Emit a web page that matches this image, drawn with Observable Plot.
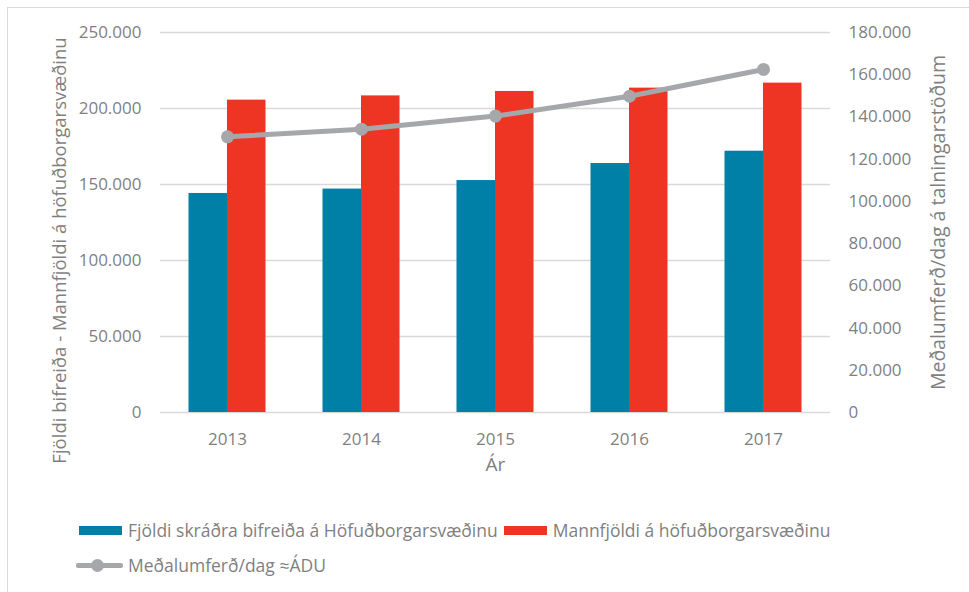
<!DOCTYPE html>
<html>
<head>
<meta charset="utf-8">
<script src="https://cdn.jsdelivr.net/npm/d3@7"></script>
<script src="https://cdn.jsdelivr.net/npm/@observablehq/plot@0.6"></script>
<style>
  body { margin: 0; background: #fff; font-family: "Open Sans", sans-serif; }
  #wrap { position: relative; width: 969px; height: 592px; overflow: hidden; }
  #frame { position: absolute; left: 7px; top: 7px; width: 1000px; height: 1000px; border: 1.5px solid #d9d9d9; box-sizing: border-box; pointer-events: none; }
  #chart svg { display: block; overflow: visible; }
  .legend { position: absolute; left: 0; top: 490px; width: 969px; color: #7f7f7f; font-size: 17.5px; }
  .row { position: absolute; left: 76px; display: flex; align-items: center; white-space: nowrap; }
  .sw { display: inline-block; width: 43px; height: 9px; margin-left: 3px; margin-right: 6px; }
  .ln { display: inline-block; position: relative; width: 47px; height: 5px; background: #a5a7aa; margin-right: 5px; border-radius: 2px; }
  .ln::after { content: ""; position: absolute; left: 15px; top: -4px; width: 13px; height: 13px; border-radius: 50%; background: #a5a7aa; }
</style>
</head>
<body>
<div id="wrap">
  <div id="frame"></div>
  <div id="chart"></div>
  <div class="legend" id="legend"></div>
</div>
<script>
// ---- data ----
const years = ["2013", "2014", "2015", "2016", "2017"];
const vehicles = [144100, 147000, 152600, 163800, 171900];     // Fjöldi skráðra bifreiða (left axis)
const population = [205500, 208300, 211200, 213400, 216700];   // Mannfjöldi (left axis)
const traffic = [130600, 134200, 140400, 149800, 162500];      // Meðalumferð/dag (right axis)
const seriesNames = [
  "Fjöldi skráðra bifreiða á Höfuðborgarsvæðinu",
  "Mannfjöldi á höfuðborgarsvæðinu",
  "Meðalumferð/dag ≈ÁDU"
];
const leftTicks = [0, 50000, 100000, 150000, 200000, 250000];
const rightTicks = [0, 20000, 40000, 60000, 80000, 100000, 120000, 140000, 160000, 180000];
const leftMax = 250000, rightMax = 180000;
const leftTitle = "Fjöldi bifreiða - Mannfjöldi á höfuðborgarsvæðinu";
const rightTitle = "Meðalumferð/dag á talningarstöðum";
const xTitle = "Ár";

// ---- styles ----
const teal = "#0080a6", red = "#ee3524", gray = "#a5a7aa", textGray = "#7f7f7f", grid = "#d9d9d9";
const fmt = d3.formatLocale({decimal: ",", thousands: ".", grouping: [3], currency: ["", ""]}).format(",d");
const k = leftMax / rightMax;

const rows = years.map((y, i) => ({year: y, vehicles: vehicles[i], population: population[i], traffic: traffic[i] * k}));

const chart = Plot.plot({
  width: 969,
  height: 490,
  marginLeft: 160,
  marginRight: 139,
  marginTop: 32,
  marginBottom: 78,
  style: {fontFamily: "Open Sans", fontSize: "17px", color: textGray, background: "transparent"},
  x: {type: "band", domain: years, padding: 0},
  y: {domain: [0, leftMax]},
  marks: [
    Plot.ruleY(leftTicks, {stroke: grid, strokeWidth: 1.5}),
    Plot.barY(rows, {x: "year", y: "vehicles", fill: teal, insetLeft: 28.5, insetRight: 67}),
    Plot.barY(rows, {x: "year", y: "population", fill: red, insetLeft: 67, insetRight: 28.5}),
    Plot.line(rows, {x: "year", y: "traffic", stroke: gray, strokeWidth: 5}),
    Plot.dot(rows, {x: "year", y: "traffic", fill: gray, r: 6.5}),
    Plot.axisY({ticks: leftTicks, tickFormat: fmt, tickSize: 0, tickPadding: 19, fill: textGray, label: null}),
    Plot.axisY({anchor: "right", ticks: rightTicks.map(v => v * k), tickFormat: d => fmt(Math.round(d / k)), tickSize: 0, tickPadding: 18, fill: textGray, label: null}),
    Plot.axisX({tickSize: 0, tickPadding: 20, fill: textGray, label: null}),
    Plot.text([xTitle], {text: d => d, frameAnchor: "bottom", dy: 58, fill: textGray, fontSize: 19}),
    Plot.text([leftTitle], {text: d => d, frameAnchor: "left", textAnchor: "middle", rotate: -90, dx: -100, dy: 28, fill: textGray, fontSize: 18.5}),
    Plot.text([rightTitle], {text: d => d, frameAnchor: "right", textAnchor: "middle", rotate: -90, dx: 108, dy: 0, fill: textGray, fontSize: 19.5})
  ]
});
document.getElementById("chart").appendChild(chart);

// ---- legend ----
const legend = document.getElementById("legend");
const r1 = document.createElement("div");
r1.className = "row"; r1.style.top = "28px";
r1.innerHTML =
  `<span class="sw" style="background:${teal}"></span><span>${seriesNames[0]}</span>` +
  `<span class="sw" style="background:${red};margin-left:6px"></span><span>${seriesNames[1]}</span>`;
const r2 = document.createElement("div");
r2.className = "row"; r2.style.top = "63px";
r2.innerHTML = `<span class="ln"></span><span>${seriesNames[2]}</span>`;
legend.appendChild(r1); legend.appendChild(r2);
</script>
</body>
</html>
